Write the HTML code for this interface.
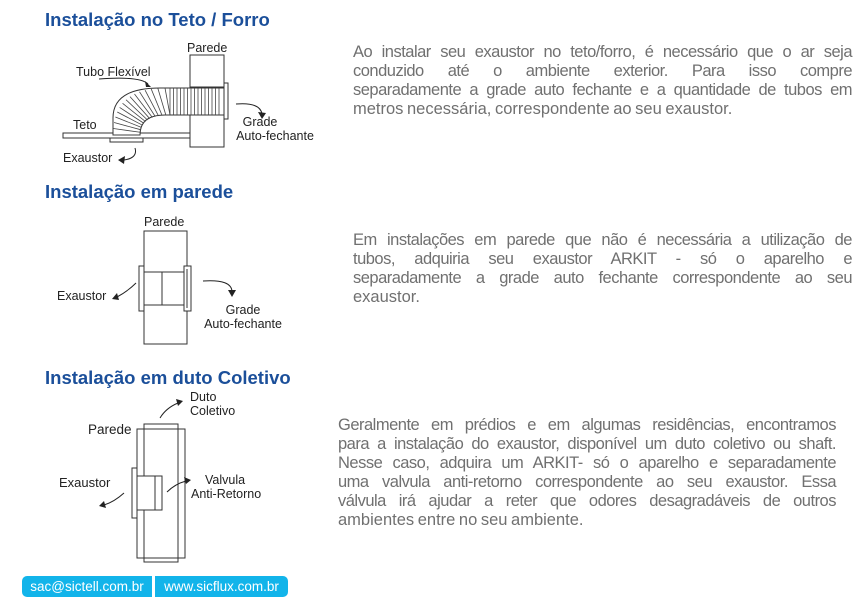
<!DOCTYPE html>
<html><head><meta charset="utf-8">
<style>
body{margin:0;width:860px;height:603px;background:#fff;position:relative;overflow:hidden;font-family:"Liberation Sans",Arial,sans-serif}
.t{position:absolute;color:#1b4f9a;font-weight:bold;font-size:18.5px;left:45px}
.p{position:absolute;color:#707070;font-size:16.5px;line-height:19px}
.p div{text-align:justify;text-align-last:justify;white-space:nowrap;letter-spacing:-0.5px;word-spacing:-1px}
.p div.l{text-align-last:left;letter-spacing:0}
.f{position:absolute;top:576px;height:21px;background:#12b4ea;color:#fff;font-size:13.5px;line-height:21px;text-align:center}
svg{position:absolute;left:0;top:0}
svg text{font-family:"Liberation Sans",Arial,sans-serif;font-size:12.5px;fill:#222}
</style></head><body>
<div class="t" style="top:9px">Instalação no Teto / Forro</div>
<div class="t" style="top:181px">Instalação em parede</div>
<div class="t" style="top:367px">Instalação em duto Coletivo</div>

<div class="p" style="left:353px;top:43px;width:499px">
<div>Ao instalar seu exaustor no teto/forro, é necessário que o ar seja</div>
<div>conduzido até o ambiente exterior. Para isso compre</div>
<div>separadamente a grade auto fechante e a quantidade de tubos em</div>
<div class="l">metros necessária, correspondente ao seu exaustor.</div>
</div>
<div class="p" style="left:353px;top:231px;width:499px">
<div>Em instalações em parede que não é necessária a utilização de</div>
<div>tubos, adquiria seu exaustor ARKIT - só o aparelho e</div>
<div>separadamente a grade auto fechante correspondente ao seu</div>
<div class="l">exaustor.</div>
</div>
<div class="p" style="left:338px;top:416px;width:498px">
<div>Geralmente em prédios e em algumas residências, encontramos</div>
<div>para a instalação do exaustor, disponível um duto coletivo ou shaft.</div>
<div>Nesse caso, adquira um ARKIT- só o aparelho e separadamente</div>
<div>uma valvula anti-retorno correspondente ao seu exaustor. Essa</div>
<div>válvula irá ajudar a reter que odores desagradáveis de outros</div>
<div class="l">ambientes entre no seu ambiente.</div>
</div>

<div class="f" style="left:22px;width:130px;border-radius:5px 0 0 5px">sac@sictell.com.br</div>
<div class="f" style="left:155px;width:133px;border-radius:0 5px 5px 0">www.sicflux.com.br</div>

<svg width="860" height="603" viewBox="0 0 860 603">
<g fill="#fff" stroke="#333" stroke-width="1">
<rect x="63" y="133" width="127" height="5"/>
<rect x="110" y="138" width="33" height="4"/>
<rect x="190" y="55" width="34" height="32"/>
<rect x="190" y="115" width="34" height="32"/>
<rect x="224" y="83" width="4" height="36"/>
<path d="M113,135 L113,118 Q113,88 160,88 L224,88 L224,115 L165,115 Q140,115 140,135 Z" fill="#fff"/>
</g>
<g id="ribs" stroke="#444" stroke-width="0.8"></g>
<g fill="#fff" stroke="#333" stroke-width="1">
<rect x="144" y="231" width="43" height="41"/>
<rect x="144" y="305" width="43" height="39"/>
<rect x="144" y="272" width="43" height="33"/>
<line x1="162" y1="272" x2="162" y2="305"/>
<rect x="139" y="266" width="5" height="45"/>
<rect x="184" y="266" width="7" height="45"/>
<line x1="187" y1="269" x2="187" y2="308"/>
<rect x="137" y="429" width="48" height="129"/>
<rect x="144" y="424" width="34" height="138" fill="none"/>
<rect x="132" y="468" width="5" height="50"/>
<rect x="137" y="476" width="25" height="34"/>
<line x1="155" y1="476" x2="155" y2="510"/>
</g>
<g fill="none" stroke="#222" stroke-width="1">
<path d="M99,79 Q140,76 148,84"/>
<path d="M135,148 Q138,158 124,160"/>
<path d="M236,104 Q260,102 262,114"/>
<path d="M136,283 Q128,291 117,297"/>
<path d="M203,281 Q232,279 232,292"/>
<path d="M160,418 Q166,408 178,403"/>
<path d="M124,493 Q114,502 104,505"/>
<path d="M167,492 Q175,484 186,481"/>
</g>
<g fill="#222">
<path d="M151,87 L145,81 L146,87 Z"/>
<path d="M118,160 L125,156 L124,164 Z"/>
<path d="M262,119 L258,112 L266,113 Z"/>
<path d="M112,299 L117,293 L119,300 Z"/>
<path d="M232,297 L228,290 L236,290 Z"/>
<path d="M183,401 L176,399 L178,406 Z"/>
<path d="M99,506 L104,501 L106,508 Z"/>
<path d="M191,480 L184,477 L186,484 Z"/>
</g>
<text x="187" y="52">Parede</text>
<text x="76" y="76">Tubo Flexível</text>
<text x="73" y="129">Teto</text>
<text x="63" y="162">Exaustor</text>
<text x="260" y="126" text-anchor="middle">Grade</text>
<text x="275" y="140" text-anchor="middle">Auto-fechante</text>
<text x="144" y="226">Parede</text>
<text x="57" y="300" font-size="12">Exaustor</text>
<text x="243" y="314" text-anchor="middle">Grade</text>
<text x="243" y="328" text-anchor="middle">Auto-fechante</text>
<text x="190" y="401">Duto</text>
<text x="190" y="415">Coletivo</text>
<text x="88" y="434" style="font-size:13.5px">Parede</text>
<text x="59" y="487" style="font-size:13px">Exaustor</text>
<text x="205" y="484">Valvula</text>
<text x="191" y="498">Anti-Retorno</text>
</svg>
<script>
var g=document.getElementById('ribs'),s='';
function q(p0,p1,p2,t){return [(1-t)*(1-t)*p0[0]+2*(1-t)*t*p1[0]+t*t*p2[0],(1-t)*(1-t)*p0[1]+2*(1-t)*t*p1[1]+t*t*p2[1]];}
for(var i=0;i<=14;i++){var t=i/14;var a=q([113,135],[113,88],[165,88],t),b=q([140,135],[140,115],[170,115],t);
s+='<line x1="'+a[0]+'" y1="'+a[1]+'" x2="'+b[0]+'" y2="'+b[1]+'"/>';}
for(var x=170;x<=222;x+=3.5){s+='<line x1="'+x+'" y1="88" x2="'+x+'" y2="115"/>';}
g.innerHTML=s;
</script>
</body></html>
